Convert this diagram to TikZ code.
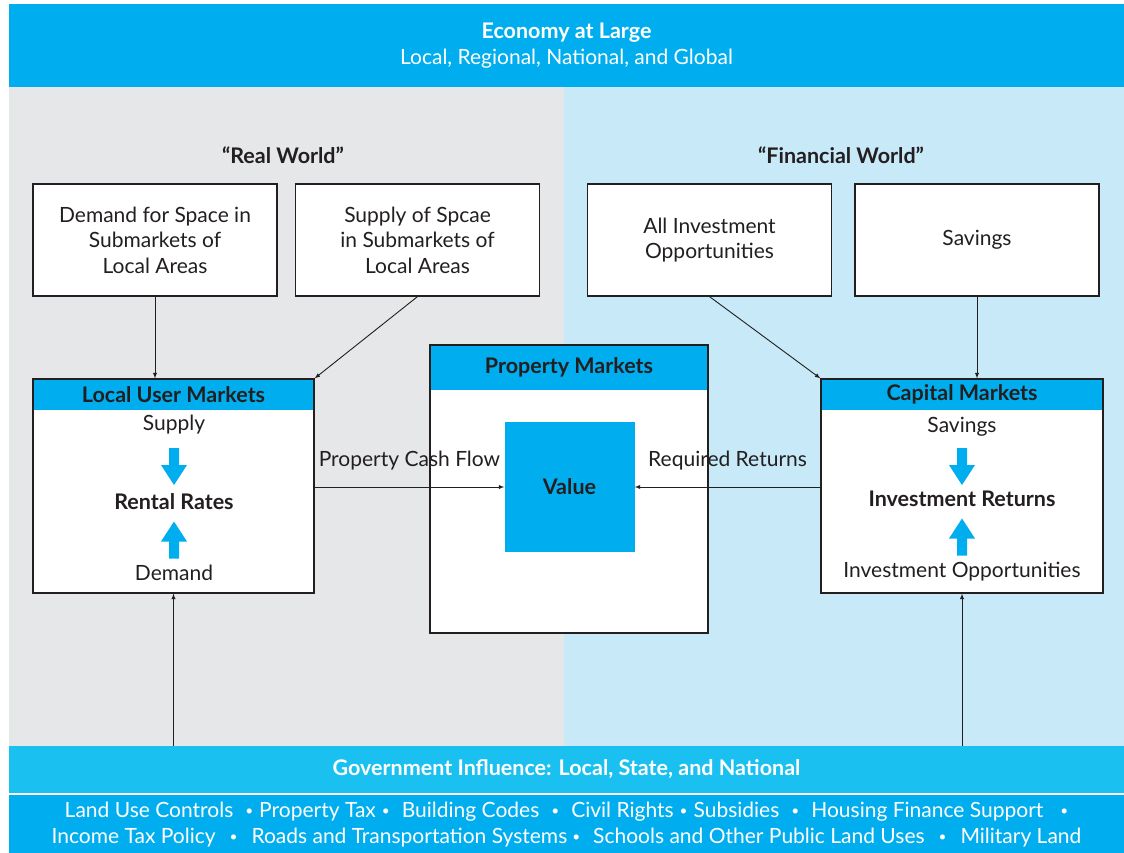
\documentclass[tikz,border=0pt]{standalone}
\usepackage{fontspec}
\setmainfont{Lato}
\usetikzlibrary{arrows.meta}
\tikzset{>=latex}
\definecolor{bandblue}{HTML}{00AEEF}
\definecolor{govblue}{HTML}{1AC0F0}
\definecolor{realgray}{HTML}{E6E7E8}
\definecolor{finblue}{HTML}{C7E9F8}
\definecolor{inkgray}{HTML}{231F20}
\newcommand{\govsep}[2]{\hspace{#1pt}\raisebox{0.2ex}{\scalebox{0.65}{•}}\hspace{#2pt}}
\newcommand{\blockarrow}[2]{% center, direction (1 = down, -1 = up)
   \fill[bandblue, shift={(#1)}, yscale=#2]
      (-5,-18.5) -- (5,-18.5) -- (5,-1.5) -- (13,-1.5) -- (0,18.5) -- (-13,-1.5) -- (-5,-1.5) -- cycle;
}
\tikzset{
  txt/.style={inner sep=0pt, align=center, text=inkgray, font=\fontsize{21}{25.5}\selectfont},
  boldtxt/.style={txt, font=\bfseries\fontsize{21.5}{25.5}\selectfont},
  band/.style={inner sep=0pt, minimum width=1115, align=center, text=white, font=\fontsize{21}{26}\selectfont},
  box/.style={draw=inkgray, line width=1.2pt, fill=white, inner sep=0pt},
  headbox/.style={box, path picture={\fill[bandblue] (path picture bounding box.north west) rectangle ([yshift=-#1]path picture bounding box.north east);}},
  flow/.style={->, draw=inkgray, line width=0.9pt},
}

\begin{document}
\begin{tikzpicture}[x=1pt, y=-1pt]
    \useasboundingbox (0,0) rectangle (1124,852);

    % Background areas
    \fill[realgray] (9,87) rectangle (564,746);
    \fill[finblue] (564,87) rectangle (1124,746);
    \node[band, fill=bandblue, minimum height=83] (economy) at (566.5,45.5)
        {{\bfseries\fontsize{21.5}{25.5}\selectfont Economy at Large}\\Local, Regional, National, and Global};
    \node[band, fill=govblue, minimum height=47, font=\bfseries\fontsize{21.5}{25.5}\selectfont] (gov) at (566.5,769.5)
        {Government Influence: Local, State, and National};
    \node[band, fill=bandblue, minimum height=59] (policies) at (566.5,824.5)
        {Land Use Controls\govsep{12}{6}Property Tax\govsep{6}{12}Building Codes\govsep{12}{12}Civil Rights\govsep{6}{6}Subsidies\govsep{12}{12}Housing Finance Support\govsep{17}{0}\\
         Income Tax Policy\govsep{14}{14}Roads and Transportation Systems\govsep{5}{13}Schools and Other Public Land Uses\govsep{14}{14}Military Land};

    % World titles
    \node[boldtxt] (realtitle) at (283,155) {“Real World”};
    \node[boldtxt] (fintitle) at (841,155) {“Financial World”};

    % Top boxes
    \node[box, txt, minimum width=244, minimum height=112] (demand) at (155,240)
        {Demand for Space in\\Submarkets of\\Local Areas};
    \node[box, txt, minimum width=244, minimum height=112] (supply) at (417.5,240)
        {Supply of Spcae\\in Submarkets of\\Local Areas};
    \node[box, txt, minimum width=244, minimum height=112] (opps) at (709.5,240)
        {All Investment\\Opportunities};
    \node[box, txt, minimum width=244, minimum height=112] (savings) at (977,240)
        {Savings};

    % Markets
    \node[headbox=31pt, minimum width=281, minimum height=214] (lum) at (173.5,486) {};
    \node[boldtxt] (lumtitle) at ([yshift=-16pt]lum.north) {Local User Markets};
    \node[txt] (lumsupply) at (174,425) {Supply};
    \blockarrow{174,466.5}{1}
    \node[boldtxt] (rent) at (174,502) {Rental Rates};
    \blockarrow{174,540}{-1}
    \node[txt] (lumdemand) at (174,573) {Demand};

    \node[headbox=45pt, minimum width=278, minimum height=288] (prop) at (569,489) {};
    \node[boldtxt] (proptitle) at ([yshift=-23pt]prop.north) {Property Markets};
    \node[fill=bandblue, minimum size=130, inner sep=0pt, boldtxt] (value) at (569.5,487) {Value};

    \node[headbox=31pt, minimum width=282, minimum height=214] (cap) at (962,486) {};
    \node[boldtxt] (captitle) at ([yshift=-16pt]cap.north) {Capital Markets};
    \node[txt] (capsavings) at (962,427) {Savings};
    \blockarrow{962,466.5}{1}
    \node[boldtxt] (invret) at (962,499) {Investment Returns};
    \blockarrow{962,537}{-1}
    \node[txt] (capopps) at (962,572) {Investment Opportunities};

    % Flows
    \draw[flow] (demand.south) -- (demand.south |- lum.north);
    \draw[flow] (supply.south) -- (lum.north east);
    \draw[flow] (opps.south) -- (cap.north west);
    \draw[flow] (savings.south) -- (savings.south |- cap.north);
    \draw[flow] (lum.east |- value.west) -- node[txt, yshift=26pt] (cashflow) {Property Cash Flow} (value.west);
    \draw[flow] (cap.west |- value.east) -- node[txt, yshift=26pt] (reqret) {Required Returns} (value.east);
    \draw[flow] (gov.north -| lum.south) -- (lum.south);
    \draw[flow] (gov.north -| cap.south) -- (cap.south);
\end{tikzpicture}
\end{document}
